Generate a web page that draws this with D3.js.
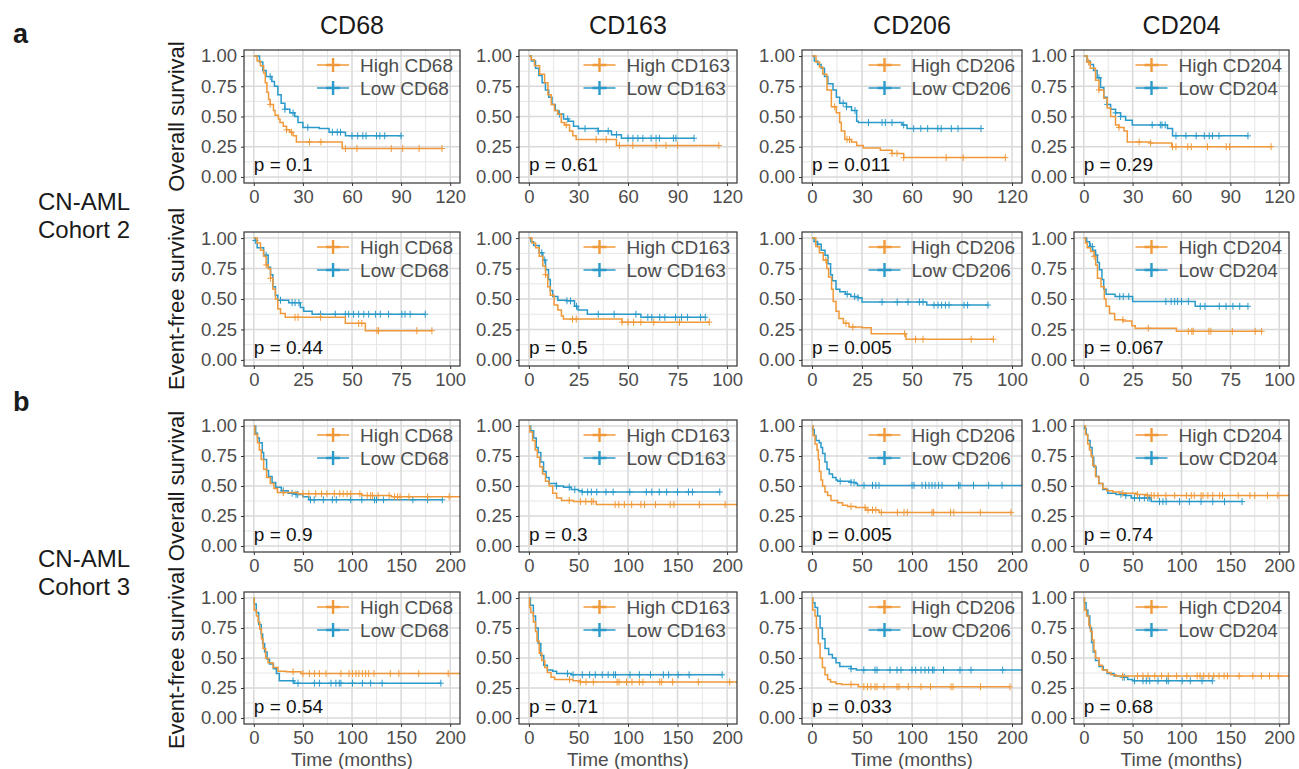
<!DOCTYPE html>
<html lang="en">
  <head>
    <meta charset="UTF-8" />
    <title>Macrophage markers - CN-AML survival</title>
    <script src="https://d3js.org/d3.v7.min.js"></script>
    <style>
      body { margin: 0; background: #fff; }
      text { font-family: "Liberation Sans", Arial, sans-serif; }
    </style>
  </head>
  <body>
    <svg id="fig" width="1299" height="769"></svg>
    <script>
      // ---- labels ----
      const markers = ["CD68", "CD163", "CD206", "CD204"];
      const rowTitles = ["Overall survival", "Event-free survival", "Overall survival", "Event-free survival"];
      const rowMaxTime = [120, 100, 200, 200];
      const rowTickStep = [30, 25, 50, 50];
      const yTicks = [0, 0.25, 0.5, 0.75, 1];
      const pValues = [
        ["0.1", "0.61", "0.011", "0.29"],
        ["0.44", "0.5", "0.005", "0.067"],
        ["0.9", "0.3", "0.005", "0.74"],
        ["0.54", "0.71", "0.033", "0.68"],
      ];

      // ---- cohort 2, overall survival: [time, survival] steps, censor times ----
      const os2_cd68_hi = [[0,1],[2,0.96],[4,0.92],[6,0.86],[7,0.78],[8,0.70],[9,0.64],[10,0.60],[12,0.55],[13,0.51],[15,0.48],[16,0.45],[18,0.42],[20,0.39],[22,0.37],[24,0.34],[26,0.29],[54,0.235],[115,0.235]];
      const os2_cd68_hi_c = [10,20,23,34,41,56,63,84,91,101,115];
      const os2_cd68_lo = [[0,1],[3.5,0.95],[5.5,0.88],[7.5,0.83],[11,0.79],[12.6,0.75],[14.7,0.68],[16.7,0.61],[19,0.56],[22,0.53],[25,0.50],[27,0.45],[30,0.41],[40,0.40],[46,0.37],[56,0.34],[90,0.34]];
      const os2_cd68_lo_c = [10,19,24,33,48,51,53,60,63.5,66.6,68.6,75,77,80,90];
      const os2_cd163_hi = [[0,1],[1.4,0.97],[3.4,0.92],[6.5,0.85],[9.5,0.78],[11.5,0.68],[13.5,0.60],[15.5,0.55],[17.5,0.52],[19.6,0.45],[21.6,0.43],[24.6,0.38],[26.6,0.34],[28.6,0.31],[53,0.26],[115,0.26]];
      const os2_cd163_hi_c = [22.6,40.7,46.8,54.8,62.9,77,83,90,115];
      const os2_cd163_lo = [[0,1],[1.5,0.96],[4,0.9],[6,0.84],[8,0.78],[10,0.72],[12,0.66],[14,0.6],[16,0.55],[18,0.52],[21,0.48],[24,0.46],[27,0.42],[30,0.40],[42,0.38],[50,0.35],[56,0.32],[100,0.32]];
      const os2_cd163_lo_c = [18.5,23.5,34,42,48,53,60,63,66,69,74,77,79,87.5,89,100];
      const os2_cd206_hi = [[0,1],[2.4,0.95],[4.5,0.91],[6.5,0.85],[9,0.72],[11.6,0.58],[14.6,0.53],[16.6,0.45],[17.6,0.38],[19.7,0.31],[23.7,0.29],[26.8,0.26],[30.8,0.24],[41,0.22],[48,0.195],[55,0.16],[116,0.16]];
      const os2_cd206_hi_c = [13.6,21,22.5,48,51,55,80.5,90.7,116];
      const os2_cd206_lo = [[0,1],[1.4,0.96],[3.4,0.93],[5.5,0.90],[7.5,0.83],[9.5,0.77],[12.6,0.72],[14.6,0.66],[16.6,0.61],[20.7,0.58],[23.7,0.55],[26.8,0.46],[27.8,0.45],[54,0.43],[57,0.40],[101.4,0.40]];
      const os2_cd206_lo_c = [18.7,20.7,25.8,33.9,42,44,48,55,61,65.3,69.4,75.5,77.5,83.6,87.6,101.4];
      const os2_cd204_hi = [[0,1],[2,0.95],[4,0.9],[7.2,0.80],[9.3,0.72],[12.3,0.65],[14.4,0.57],[16.5,0.50],[19.5,0.43],[21.6,0.41],[24.7,0.38],[26.7,0.29],[41,0.28],[54,0.25],[115,0.25]];
      const os2_cd204_hi_c = [3,9.3,21.6,34,41,54.5,56.6,63.8,66,76,87.4,89.5,115];
      const os2_cd204_lo = [[0,1],[2,0.96],[4,0.93],[6,0.88],[8.2,0.82],[10.3,0.74],[12.3,0.66],[14.4,0.6],[16.5,0.56],[19.5,0.53],[22.6,0.5],[25.7,0.47],[29.8,0.43],[51.4,0.40],[54.5,0.34],[100.8,0.34]];
      const os2_cd204_lo_c = [9.3,14.4,19.5,22.6,42,47,48,50,56.6,62.7,69,74,77,79,83,100.8];

      // ---- cohort 2, event-free survival ----
      const efs2_cd68_hi = [[0,1],[1.7,0.96],[3.4,0.90],[5,0.85],[6.3,0.78],[7.3,0.75],[8.5,0.67],[9.7,0.58],[11,0.50],[12.2,0.42],[13.6,0.38],[16,0.35],[46.6,0.30],[56.8,0.24],[90.7,0.24]];
      const efs2_cd68_hi_c = [6.3,8.5,21,22.5,34,53.4,55,62.7,63.5,83,90.7];
      const efs2_cd68_lo = [[0,1],[0.8,0.98],[1.7,0.92],[5,0.86],[7.3,0.76],[8.5,0.70],[9.7,0.60],[11,0.53],[12.2,0.49],[17.8,0.47],[23.7,0.43],[25.4,0.40],[29.7,0.375],[87.3,0.375]];
      const efs2_cd68_lo_c = [0.8,6.3,13.6,19.5,21,23,34,41.5,46.6,48.3,50.8,53.4,56,58.5,62,64.4,68.6,75.4,77,79.6,87.3];
      const efs2_cd163_hi = [[0,1],[1.5,0.96],[3.4,0.92],[5.2,0.85],[7,0.77],[8.4,0.7],[9.5,0.6],[10.8,0.53],[12.7,0.45],[14.6,0.41],[16.4,0.36],[17.4,0.335],[47,0.31],[91,0.31]];
      const efs2_cd163_hi_c = [8.4,22,23.9,47,50,52.8,56.5,63,76,91];
      const efs2_cd163_lo = [[0,1],[1,0.97],[2.4,0.94],[5.2,0.88],[7,0.82],[8.4,0.74],[9.9,0.66],[10.8,0.57],[12,0.52],[14.6,0.49],[19.2,0.485],[23,0.44],[24.8,0.41],[29.5,0.375],[56.5,0.35],[89,0.35]];
      const efs2_cd163_lo_c = [6.5,8,19.2,21,24,35,43,54,60,62,66,68.6,74,77,80,86.6,89];
      const efs2_cd206_hi = [[0,1],[1.9,0.93],[3.7,0.88],[5.6,0.82],[7.4,0.75],[8.3,0.68],[9.8,0.58],[10.6,0.48],[12,0.40],[13.5,0.34],[15.7,0.30],[18.5,0.27],[25,0.265],[29.6,0.215],[47,0.17],[90.7,0.17]];
      const efs2_cd206_hi_c = [6.9,17,20.4,46.3,51.8,55.5,79.6,90.7];
      const efs2_cd206_lo = [[0,1],[1,0.97],[2.8,0.95],[4.6,0.9],[6.5,0.86],[8,0.79],[9.3,0.70],[10.2,0.65],[12,0.58],[13.9,0.56],[16.7,0.54],[19.4,0.52],[23,0.51],[25,0.475],[57.4,0.45],[88,0.45]];
      const efs2_cd206_lo_c = [2.8,17.6,21.3,23,35,42.6,48,53.7,55.5,61,63,64.8,66.7,68.5,76,77.8,88];
      const efs2_cd204_hi = [[0,1],[0.9,0.96],[1.75,0.92],[3.5,0.89],[5.3,0.85],[6.1,0.78],[7,0.67],[8.8,0.60],[10.5,0.50],[11.4,0.44],[13.2,0.38],[15.8,0.33],[20.2,0.32],[24.6,0.28],[26.3,0.26],[47.4,0.235],[91,0.235]];
      const efs2_cd204_hi_c = [5.3,20,33,53.5,55.3,56,64,65,76,87.7,91];
      const efs2_cd204_lo = [[0,1],[1.5,0.97],[3,0.93],[4.5,0.9],[6,0.86],[7,0.8],[8,0.74],[9.3,0.66],[10.2,0.58],[11.4,0.54],[16,0.52],[25,0.48],[57,0.44],[84,0.44]];
      const efs2_cd204_lo_c = [3.5,4.4,6.1,18.4,20.2,23,42,44.7,46.5,48,50,53.5,59.6,62,69.3,72.8,76.3,79.8,84];

      // ---- cohort 3, overall survival ----
      const os3_cd68_hi = [[0,1],[1,0.93],[3.7,0.86],[5.6,0.80],[7.5,0.72],[10,0.64],[13,0.57],[16.8,0.52],[20.5,0.48],[24,0.445],[45,0.435],[110,0.42],[140,0.41],[210,0.41]];
      const os3_cd68_hi_c = [30,50,56,63,69,74.5,82,87.5,91,95,98.7,108,115.5,119,121,126.6,137.8,143.4,146.4,149,158,177,199];
      const os3_cd68_lo = [[0,1],[1.9,0.94],[3.7,0.90],[5.6,0.86],[8.6,0.78],[10,0.72],[13,0.63],[15,0.58],[18.6,0.53],[22.3,0.49],[28,0.46],[35,0.44],[42.8,0.43],[50,0.41],[56,0.385],[192,0.385]];
      const os3_cd68_lo_c = [30,39,43,44.7,57.7,61.5,70.8,80,84,98.7,110,123,125,132,162,177,192];
      const os3_cd163_hi = [[0,1],[1,0.95],[3.7,0.88],[6.3,0.80],[8.5,0.74],[11,0.66],[13.7,0.60],[16.7,0.54],[20.4,0.50],[24,0.44],[28,0.40],[33,0.38],[45,0.37],[68,0.345],[210,0.345]];
      const os3_cd163_hi_c = [40.7,52,57.4,63,64.8,87,90.7,96.3,103.7,113,116.7,127.8,142.6,146.3,172,198];
      const os3_cd163_lo = [[0,1],[1.8,0.96],[4.8,0.9],[7.4,0.82],[9.3,0.78],[12,0.70],[14.8,0.62],[17.4,0.57],[20.4,0.52],[27.8,0.50],[35,0.49],[42.6,0.47],[50,0.46],[53.7,0.45],[192.6,0.45]];
      const os3_cd163_lo_c = [27.8,40.7,46.3,53.7,59.3,63,68.5,77.8,85,101.8,118.5,124,131.5,139,150,161,165,192.6];
      const os3_cd206_hi = [[0,1],[1,0.92],[3,0.85],[5,0.80],[6.3,0.72],[7.3,0.62],[9,0.55],[10.6,0.50],[13,0.45],[15.6,0.42],[19,0.38],[25.6,0.36],[30.6,0.34],[35.5,0.33],[43.8,0.32],[53.8,0.30],[67,0.28],[200,0.28]];
      const os3_cd206_hi_c = [39,53,56,60.5,63.8,69.4,85.4,92,95.3,120,121.6,138.5,141.8,168.4,199];
      const os3_cd206_lo = [[0,1],[0.7,0.97],[2.3,0.92],[4,0.88],[7.3,0.86],[9,0.82],[10.6,0.77],[13,0.70],[15,0.64],[17.3,0.60],[20.6,0.57],[24,0.55],[25.6,0.54],[39,0.53],[43.8,0.52],[45.5,0.505],[210,0.505]];
      const os3_cd206_lo_c = [28.2,39,42,52,60.5,63.8,67,100,102,110,113.6,117,120,123,126.6,130,146.5,148,161.5,176.7,190];
      const os3_cd204_hi = [[0,1],[1.7,0.93],[4,0.85],[5.8,0.80],[7.5,0.75],[9.2,0.67],[12,0.58],[15.4,0.52],[19.5,0.48],[23.5,0.46],[29.7,0.45],[36.5,0.44],[53.6,0.43],[63.8,0.42],[210,0.42]];
      const os3_cd204_hi_c = [40,55,65,69,72,76,84,93,105,110,113,120,122,127,132,139,142,158,170,175,188,198.6];
      const os3_cd204_lo = [[0,1],[0.7,0.98],[2.4,0.93],[4,0.88],[6.5,0.82],[8.5,0.74],[10.2,0.66],[12.6,0.58],[15.4,0.52],[19.5,0.47],[24.6,0.44],[33,0.43],[43,0.42],[48.5,0.40],[69,0.37],[162,0.37]];
      const os3_cd204_lo_c = [38,43,51.9,57,62,65.5,67,77.5,81,84.3,98,108,120,132,144,162];

      // ---- cohort 3, event-free survival ----
      const efs3_cd68_hi = [[0,1],[0.4,0.90],[2.7,0.85],[4.4,0.8],[6,0.74],[7.8,0.66],[9.4,0.58],[12,0.50],[14.5,0.46],[19.6,0.42],[24.6,0.39],[33,0.385],[48,0.37],[210,0.37]];
      const efs3_cd68_hi_c = [40,50,56.6,61.7,66.8,73.5,88.7,97,100.5,104,107,110.6,114,117,122.4,139,147.7,168,198];
      const efs3_cd68_lo = [[0,1],[0.5,0.95],[2.5,0.88],[5,0.78],[7.5,0.7],[9,0.62],[11,0.55],[13.5,0.49],[16,0.45],[20,0.41],[23,0.37],[26,0.31],[41,0.29],[190.5,0.29]];
      const efs3_cd68_lo_c = [40,45,61.7,66.8,78.6,83.6,87,88.7,100.5,110.6,119,130.7,190.5];
      const efs3_cd163_hi = [[0,1],[0.7,0.92],[1.9,0.88],[4.5,0.80],[6.7,0.72],[8.2,0.64],[10.4,0.54],[13,0.48],[16,0.42],[18.6,0.38],[22.3,0.34],[26,0.32],[44.6,0.31],[52,0.30],[210,0.30]];
      const efs3_cd163_hi_c = [41,52,57.6,65,89,91,98.5,104,111.5,115,132,134,145,171,202.6];
      const efs3_cd163_lo = [[0,1],[1.5,0.94],[4.5,0.85],[6.7,0.75],[9.3,0.62],[12,0.52],[15,0.44],[18.6,0.40],[24,0.39],[28,0.37],[43,0.36],[195,0.36]];
      const efs3_cd163_lo_c = [39,44.6,53.9,61.3,67,74,80,85.5,87.4,102,111.5,122.7,135.7,141,150.6,161.7,195];
      const efs3_cd206_hi = [[0,1],[0.7,0.90],[3,0.85],[4.4,0.75],[6.3,0.62],[8.1,0.50],[10.4,0.42],[13,0.36],[15.6,0.32],[18.5,0.30],[24,0.285],[29.6,0.28],[46.3,0.26],[198,0.26]];
      const efs3_cd206_hi_c = [39,51.8,55.5,59,63,65,72,85,87,96.3,109,118.5,139,141,168.5,198];
      const efs3_cd206_lo = [[0,1],[0.7,0.96],[3,0.92],[5.6,0.85],[8.1,0.75],[10.4,0.66],[13,0.58],[16.7,0.53],[20.4,0.5],[24,0.46],[27.8,0.43],[39,0.41],[44.4,0.40],[210,0.40]];
      const efs3_cd206_lo_c = [39,51.8,63,65,78,85,89,100,103.7,109,113,116.7,120.4,122,131.5,148,159,190.7];
      const efs3_cd204_hi = [[0,1],[0.7,0.9],[2.8,0.85],[5.2,0.77],[6.9,0.72],[8.7,0.65],[10.4,0.56],[12,0.50],[15.6,0.44],[19,0.40],[24,0.38],[27.7,0.36],[33,0.35],[210,0.35]];
      const efs3_cd204_hi_c = [39.8,55,60.6,65.7,72.7,79.6,86.5,95,105.5,116,119,122.8,128,133,138.4,143.6,147,159,173,181.7,190,199];
      const efs3_cd204_lo = [[0,1],[0.7,0.96],[2.4,0.9],[4.2,0.85],[6.2,0.75],[8,0.63],[9.7,0.55],[12,0.48],[15.6,0.43],[20,0.40],[24,0.37],[31,0.35],[39.8,0.34],[45,0.32],[50,0.31],[131.5,0.31]];
      const efs3_cd204_lo_c = [39.8,41.5,52,60.6,64,67.5,76,84.8,86.5,100.7,109,121,131.5];

      // table of panels: [highSteps, highCensor, lowSteps, lowCensor]
      const panels = [
        [[os2_cd68_hi, os2_cd68_hi_c, os2_cd68_lo, os2_cd68_lo_c], [os2_cd163_hi, os2_cd163_hi_c, os2_cd163_lo, os2_cd163_lo_c],
         [os2_cd206_hi, os2_cd206_hi_c, os2_cd206_lo, os2_cd206_lo_c], [os2_cd204_hi, os2_cd204_hi_c, os2_cd204_lo, os2_cd204_lo_c]],
        [[efs2_cd68_hi, efs2_cd68_hi_c, efs2_cd68_lo, efs2_cd68_lo_c], [efs2_cd163_hi, efs2_cd163_hi_c, efs2_cd163_lo, efs2_cd163_lo_c],
         [efs2_cd206_hi, efs2_cd206_hi_c, efs2_cd206_lo, efs2_cd206_lo_c], [efs2_cd204_hi, efs2_cd204_hi_c, efs2_cd204_lo, efs2_cd204_lo_c]],
        [[os3_cd68_hi, os3_cd68_hi_c, os3_cd68_lo, os3_cd68_lo_c], [os3_cd163_hi, os3_cd163_hi_c, os3_cd163_lo, os3_cd163_lo_c],
         [os3_cd206_hi, os3_cd206_hi_c, os3_cd206_lo, os3_cd206_lo_c], [os3_cd204_hi, os3_cd204_hi_c, os3_cd204_lo, os3_cd204_lo_c]],
        [[efs3_cd68_hi, efs3_cd68_hi_c, efs3_cd68_lo, efs3_cd68_lo_c], [efs3_cd163_hi, efs3_cd163_hi_c, efs3_cd163_lo, efs3_cd163_lo_c],
         [efs3_cd206_hi, efs3_cd206_hi_c, efs3_cd206_lo, efs3_cd206_lo_c], [efs3_cd204_hi, efs3_cd204_hi_c, efs3_cd204_lo, efs3_cd204_lo_c]],
      ];

      const ORANGE = "#F0993A", BLUE = "#2A9ACA";
      const rowTop = [50, 232, 420, 592], rowBot = [183, 366, 552, 724];
      const colLeft = [244, 519, 802, 1074], colRight = [460, 737, 1022, 1289];

      const svg = d3.select("#fig");
      const bis = d3.bisector((d) => d[0]).right;

      // panel tags and row labels
      svg.append("text").attr("x", 13).attr("y", 43).attr("font-size", 27).attr("font-weight", "bold").attr("fill", "#1a1a1a").text("a");
      svg.append("text").attr("x", 13).attr("y", 411).attr("font-size", 27).attr("font-weight", "bold").attr("fill", "#1a1a1a").text("b");
      [["CN-AML", "Cohort 2", 210], ["CN-AML", "Cohort 3", 567]].forEach(([l1, l2, yb]) => {
        const t = svg.append("text").attr("text-anchor", "middle").attr("font-size", 24).attr("fill", "#1a1a1a");
        t.append("tspan").attr("x", 84).attr("y", yb).text(l1);
        t.append("tspan").attr("x", 84).attr("y", yb + 28).text(l2);
      });

      markers.forEach((m, c) => {
        svg.append("text")
          .attr("x", (colLeft[c] + colRight[c]) / 2).attr("y", 34)
          .attr("text-anchor", "middle").attr("font-size", 25).attr("fill", "#1a1a1a")
          .text(m);
      });

      panels.forEach((row, r) => {
        const max = rowMaxTime[r], step = rowTickStep[r];
        svg.append("text")
          .attr("transform", `translate(176,${(rowTop[r] + rowBot[r]) / 2}) rotate(-90)`)
          .attr("text-anchor", "middle").attr("dominant-baseline", "central")
          .attr("font-size", 22).attr("fill", "#1a1a1a").text(rowTitles[r]);

        row.forEach((curves, c) => {
          const L = colLeft[c], R = colRight[c], T = rowTop[r], B = rowBot[r];
          const x = d3.scaleLinear().domain([-0.05 * max, 1.05 * max]).range([L, R]);
          const y = d3.scaleLinear().domain([-0.05, 1.05]).range([B, T]);
          const g = svg.append("g");

          // grid
          const xMinor = d3.range(step / 2, max + step, step).filter((v) => v < 1.05 * max);
          const yMinor = [0.125, 0.375, 0.625, 0.875];
          const xMajor = d3.range(0, max + 1, step);
          g.selectAll(".xm").data(xMinor).join("line")
            .attr("x1", (d) => x(d)).attr("x2", (d) => x(d)).attr("y1", T).attr("y2", B)
            .attr("stroke", "#E6E6E6").attr("stroke-width", 1);
          g.selectAll(".ym").data(yMinor).join("line")
            .attr("x1", L).attr("x2", R).attr("y1", (d) => y(d)).attr("y2", (d) => y(d))
            .attr("stroke", "#E6E6E6").attr("stroke-width", 1);
          g.selectAll(".xM").data(xMajor).join("line")
            .attr("x1", (d) => x(d)).attr("x2", (d) => x(d)).attr("y1", T).attr("y2", B)
            .attr("stroke", "#D9D9D9").attr("stroke-width", 1.5);
          g.selectAll(".yM").data(yTicks).join("line")
            .attr("x1", L).attr("x2", R).attr("y1", (d) => y(d)).attr("y2", (d) => y(d))
            .attr("stroke", "#D9D9D9").attr("stroke-width", 1.5);

          // axes
          const xa = g.append("g").attr("transform", `translate(0,${B})`)
            .call(d3.axisBottom(x).tickValues(xMajor).tickSize(3).tickPadding(4));
          const ya = g.append("g").attr("transform", `translate(${L},0)`)
            .call(d3.axisLeft(y).tickValues(yTicks).tickFormat(d3.format(".2f")).tickSize(3).tickPadding(4));
          [xa, ya].forEach((a) => {
            a.select(".domain").remove();
            a.selectAll("line").attr("stroke", "#333");
            a.selectAll("text").attr("fill", "#4D4D4D").attr("font-size", 18.5)
              .attr("font-family", '"Liberation Sans", Arial, sans-serif');
          });

          // curves
          const clipId = `clip${r}${c}`;
          g.append("clipPath").attr("id", clipId).append("rect")
            .attr("x", L).attr("y", T).attr("width", R - L).attr("height", B - T);
          const plot = g.append("g").attr("clip-path", `url(#${clipId})`);
          const line = d3.line().curve(d3.curveStepAfter).x((d) => x(d[0])).y((d) => y(d[1]));
          [[curves[2], curves[3], BLUE], [curves[0], curves[1], ORANGE]].forEach(([steps, cens, col]) => {
            plot.append("path").datum(steps).attr("d", line)
              .attr("fill", "none").attr("stroke", col).attr("stroke-width", 1.5);
            plot.selectAll(null).data(cens).join("path")
              .attr("d", (t) => {
                const s = steps[Math.max(0, bis(steps, t) - 1)][1];
                const px = x(t), py = y(s);
                return `M${px - 3},${py}h6M${px},${py - 3.5}v7`;
              })
              .attr("stroke", col).attr("stroke-width", 1).attr("fill", "none");
          });

          // border
          g.append("rect").attr("x", L).attr("y", T).attr("width", R - L).attr("height", B - T)
            .attr("fill", "none").attr("stroke", "#333").attr("stroke-width", 1.2);

          // legend
          const labels = ["High " + markers[c], "Low " + markers[c]];
          const lg = g.append("g");
          const txt = lg.selectAll("text").data(labels).join("text")
            .attr("y", (d, i) => T + 15 + i * 23).attr("dominant-baseline", "central")
            .attr("font-size", 19).attr("fill", "#4D4D4D").text((d) => d);
          const maxW = d3.max(txt.nodes(), (n) => n.getComputedTextLength());
          const tx = R - 7 - maxW;
          txt.attr("x", tx);
          [ORANGE, BLUE].forEach((col, i) => {
            const ly = T + 15 + i * 23, k1 = tx - 43, k2 = tx - 11;
            lg.append("line").attr("x1", k1).attr("x2", k2).attr("y1", ly).attr("y2", ly)
              .attr("stroke", col).attr("stroke-width", 1.6);
            lg.append("path").attr("d", `M${(k1 + k2) / 2 - 7},${ly}h14M${(k1 + k2) / 2},${ly - 7}v14`)
              .attr("stroke", col).attr("stroke-width", 2.4);
          });

          // p value
          g.append("text").attr("x", x(0)).attr("y", y(0.1)).attr("dominant-baseline", "central")
            .attr("font-size", 19).attr("fill", "#111").text("p = " + pValues[r][c]);

          if (r === 3) {
            g.append("text").attr("x", (L + R) / 2).attr("y", 766).attr("text-anchor", "middle")
              .attr("font-size", 19).attr("fill", "#4D4D4D").text("Time (months)");
          }
        });
      });
    </script>
  </body>
</html>
